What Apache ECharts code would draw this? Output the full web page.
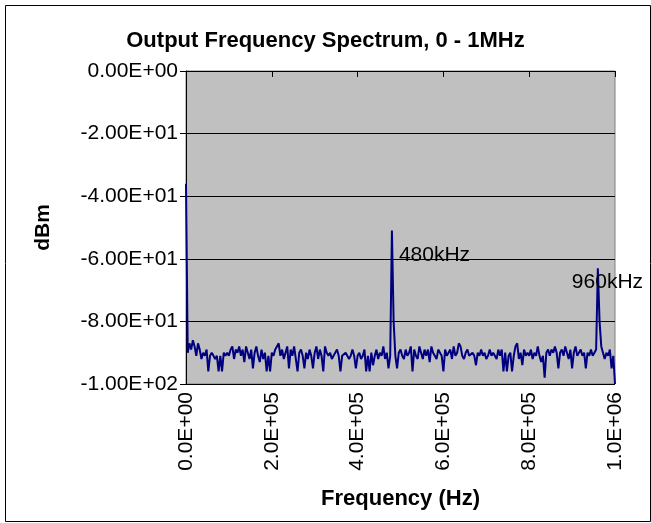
<!DOCTYPE html>
<html>
<head>
<meta charset="utf-8">
<script src="https://cdn.jsdelivr.net/npm/echarts@6/dist/echarts.min.js"></script>
<style>html,body{margin:0;padding:0;background:#fff}#c{width:651px;height:523px}</style>
</head>
<body>
<div id="c"></div>
<script>
var title = 'Output Frequency Spectrum, 0 - 1MHz';
var xName = 'Frequency (Hz)';
var yName = 'dBm';
var freqStep = 4000; // Hz between samples
var levels = [
  -36, -90, -87, -89, -86, -88, -91, -87, -89, -92,
  -90, -91, -89, -96, -91, -90, -91, -92, -91, -96,
  -91, -96, -90, -91, -90, -91, -89, -88, -92, -89,
  -90, -88, -91, -89, -93, -88, -90, -92, -89, -95,
  -90, -88, -91, -93, -89, -92, -90, -96, -91, -96,
  -90, -91, -89, -88, -87, -91, -89, -92, -90, -88,
  -95, -89, -91, -88, -92, -96, -90, -89, -91, -95,
  -90, -92, -89, -91, -95, -90, -88, -92, -89, -91,
  -96, -88, -90, -91, -90, -92, -91, -91, -89, -91,
  -96, -91, -91, -90, -91, -92, -91, -89, -91, -95,
  -91, -90, -92, -91, -89, -96, -91, -96, -90, -94,
  -91, -89, -92, -90, -91, -88, -92, -90, -95, -91,
  -51, -80, -91, -95, -90, -89, -91, -92, -89, -91,
  -90, -88, -96, -89, -91, -92, -88, -90, -92, -89,
  -91, -89, -93, -88, -90, -91, -92, -89, -90, -91,
  -96, -89, -91, -90, -89, -92, -88, -91, -90, -87,
  -88, -91, -92, -90, -89, -91, -91, -90, -91, -94,
  -90, -91, -89, -91, -90, -92, -91, -89, -91, -90,
  -91, -92, -89, -91, -89, -96, -90, -96, -91, -90,
  -96, -91, -88, -87, -92, -90, -94, -89, -91, -90,
  -91, -89, -92, -90, -91, -88, -91, -93, -91, -98,
  -90, -89, -91, -89, -90, -88, -90, -95, -90, -89,
  -91, -88, -90, -92, -89, -95, -90, -88, -91, -90,
  -89, -91, -90, -95, -90, -91, -89, -91, -90, -89,
  -63, -80, -88, -90, -92, -90, -91, -89, -95, -91,
  -100
];
var annotations = [
  {text: '480kHz', x: 480000, y: -51},
  {text: '960kHz', x: 960000, y: -63}
];
var annotationOffsets = [[7, 25], [-26, 14]];

function expFmt(v, d) {
  var s = Number(v).toExponential(d).toUpperCase();
  var m = s.match(/^(-?[\d.]+)E([+-])(\d+)$/);
  var e = m[3].length < 2 ? '0' + m[3] : m[3];
  return m[1] + 'E' + m[2] + e;
}

var data = levels.map(function (v, i) { return [i * freqStep, v]; });
var font = 'Liberation Sans, Arial, sans-serif';

var chart = echarts.init(document.getElementById('c'), null, {renderer: 'canvas'});
chart.setOption({
  animation: false,
  backgroundColor: '#ffffff',
  title: {
    text: title, left: 'center', top: 25,
    textStyle: {fontFamily: font, fontSize: 22, fontWeight: 'bold', color: '#000'}
  },
  grid: {
    left: 186, right: 36, top: 71, bottom: 139,
    show: true, backgroundColor: '#c0c0c0', borderColor: '#808080', borderWidth: 1
  },
  xAxis: {
    type: 'value', min: 0, max: 1000000, interval: 200000,
    name: xName, nameLocation: 'middle', nameGap: 104,
    nameTextStyle: {fontFamily: font, fontSize: 22, fontWeight: 'bold', color: '#000'},
    axisLine: {show: true, lineStyle: {color: '#000', width: 1}},
    axisTick: {show: true, length: 6, lineStyle: {color: '#000'}},
    splitLine: {show: false},
    axisLabel: {
      rotate: 90, margin: 8, fontFamily: font, fontSize: 21, color: '#000',
      formatter: function (v) { return expFmt(v, 1); }
    }
  },
  yAxis: {
    type: 'value', min: -100, max: 0, interval: 20,
    name: yName, nameLocation: 'middle', nameGap: 132, nameRotate: 90,
    nameTextStyle: {fontFamily: font, fontSize: 21, fontWeight: 'bold', color: '#000'},
    axisLine: {show: true, lineStyle: {color: '#000', width: 1}},
    axisTick: {show: true, length: 6, lineStyle: {color: '#000'}},
    splitLine: {show: true, lineStyle: {color: '#000', width: 1}},
    axisLabel: {
      margin: 8, fontFamily: font, fontSize: 21, color: '#000',
      formatter: function (v) { return expFmt(v, 2); }
    }
  },
  series: [{
    type: 'line',
    data: data,
    showSymbol: false,
    symbol: 'none',
    lineStyle: {color: '#000080', width: 2},
    itemStyle: {color: '#000080'},
    markPoint: {
      symbol: 'circle', symbolSize: 0,
      data: annotations.map(function (a, i) {
        return {
          coord: [a.x, a.y], value: a.text,
          label: {
            show: true, position: 'right', distance: 0,
            offset: annotationOffsets[i],
            formatter: a.text,
            fontFamily: font, fontSize: 21, color: '#000'
          }
        };
      })
    }
  }],
  graphic: [{
    type: 'rect', left: 3, top: 3, z: -1,
    shape: {width: 645, height: 516},
    style: {fill: 'none', stroke: '#000', lineWidth: 1}
  }]
});
</script>
</body>
</html>
